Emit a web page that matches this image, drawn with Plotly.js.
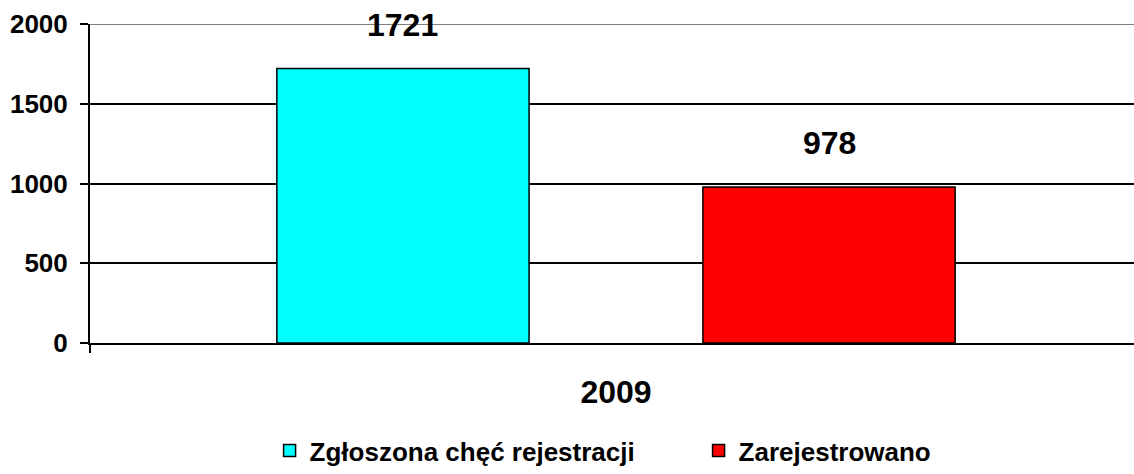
<!DOCTYPE html>
<html>
<head>
<meta charset="utf-8">
<script src="https://cdn.plot.ly/plotly-3.0.1.min.js"></script>
<style>html,body{margin:0;padding:0;background:#fff;}#chart{width:1134px;height:474px;}</style>
</head>
<body>
<div id="chart"></div>
<script>
const categories = ['2009'];
const seriesNames = ['Zgłoszona chęć rejestracji', 'Zarejestrowano'];
const seriesValues = [[1721], [978]];
const seriesColors = ['#00FFFF', '#FF0000'];
const yTickVals = [0, 500, 1000, 1500, 2000];

const FONT = 'Liberation Sans, Arial, sans-serif';
const W = 1134, H = 474;
const margin = {l: 90, r: 0, t: 24, b: 131};
const xRange = [-0.5, 0.4924];
const bargap = 0.19, bargroupgap = 0.408;

const traces = seriesNames.map((name, i) => ({
  type: 'bar',
  name: name,
  x: categories,
  y: seriesValues[i],
  marker: {color: seriesColors[i], line: {color: '#000', width: 1.5}},
  hoverinfo: 'skip'
}));

const plotW = W - margin.l - margin.r;
const pxPerUnit = plotW / (xRange[1] - xRange[0]);
const slot = (1 - bargap) / seriesNames.length;
const annotations = [];
seriesNames.forEach((name, i) => {
  const off = (i - (seriesNames.length - 1) / 2) * slot * pxPerUnit;
  categories.forEach((c, j) => {
    annotations.push({
      xref: 'x', yref: 'y', x: j, y: seriesValues[i][j],
      text: String(seriesValues[i][j]), showarrow: false,
      xshift: off, yshift: 44, yanchor: 'middle',
      font: {family: FONT, size: 32, color: '#000', weight: 700}
    });
  });
});

const layout = {
  width: W, height: H, margin: margin,
  paper_bgcolor: '#fff', plot_bgcolor: '#fff',
  showlegend: true,
  barmode: 'group', bargap: bargap, bargroupgap: bargroupgap,
  font: {family: FONT, color: '#000'},
  xaxis: {
    type: 'category', range: xRange,
    showline: true, linecolor: '#000', linewidth: 2,
    ticks: 'outside', tickson: 'boundaries', ticklen: 8, tickwidth: 2, tickcolor: '#000',
    showgrid: false, zeroline: false,
    tickfont: {family: FONT, size: 32, weight: 700, color: '#000'},
    ticklabelstandoff: 20
  },
  yaxis: {
    range: [0, 2000], tickvals: yTickVals,
    showline: true, linecolor: '#000', linewidth: 2,
    ticks: 'outside', ticklen: 8, tickwidth: 2, tickcolor: '#000',
    showgrid: true, gridcolor: '#000', gridwidth: 2, zeroline: false,
    tickfont: {family: FONT, size: 26, weight: 700, color: '#000'},
    ticklabelstandoff: 7
  },
  shapes: [{
    type: 'line', xref: 'paper', yref: 'y', x0: 0, x1: 1, y0: 2000, y1: 2000,
    line: {color: '#808080', width: 2}, layer: 'above'
  }],
  annotations: annotations,
  legend: {
    orientation: 'h', x: 0.172, xanchor: 'left', yref: 'container', y: 0, yanchor: 'bottom',
    font: {family: FONT, size: 26, weight: 700, color: '#000'},
    entrywidth: 384, entrywidthmode: 'pixels',
    bgcolor: 'rgba(0,0,0,0)'
  }
};

Plotly.newPlot('chart', traces, layout, {displayModeBar: false, staticPlot: true});
</script>
</body>
</html>
